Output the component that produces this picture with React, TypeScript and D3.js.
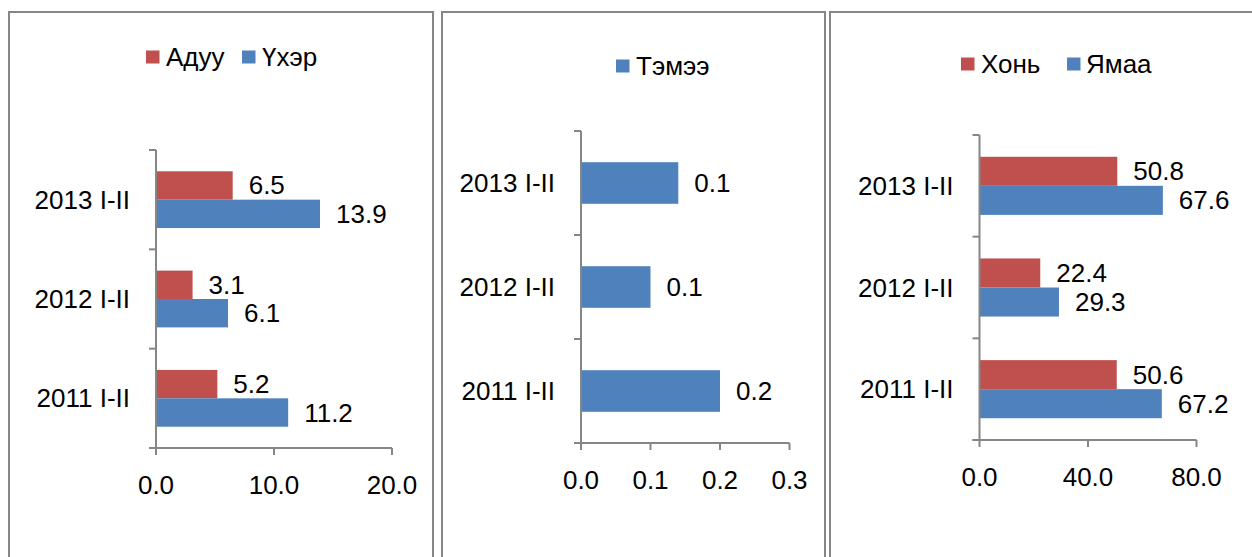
import React from 'react';
import { scaleBand, scaleLinear, format } from 'd3';

const categories = ['2013 I-II', '2012 I-II', '2011 I-II'];

// Адуу / Үхэр
const aduu = [6.5, 3.1, 5.2];
const ukher = [13.9, 6.1, 11.2];
// Тэмээ
const temee = [0.14, 0.1, 0.2];
// Хонь / Ямаа
const khoni = [50.8, 22.4, 50.6];
const yamaa = [67.6, 29.3, 67.2];

const ticks1 = [0, 10, 20];
const ticks2 = [0, 0.1, 0.2, 0.3];
const ticks3 = [0, 40, 80];

const RED = '#C0504D';
const BLUE = '#4F81BD';
const GREY = '#868686';
const FONT = 'Liberation Sans, Arial, sans-serif';
const FS = 26;
const fmt = format('.1f');

type Series = { name: string; color: string; values: number[] };
type Legend = { x: number; textX: number };

interface PanelProps {
  frame: [number, number];
  xRange: [number, number];
  yRange: [number, number];
  max: number;
  ticks: number[];
  series: Series[];
  legend: Legend[];
  legendY: number;
  tickLabelY: number;
}

function Panel({ frame, xRange, yRange, max, ticks, series, legend, legendY, tickLabelY }: PanelProps) {
  const x = scaleLinear().domain([0, max]).range(xRange);
  const y = scaleBand().domain(categories).range(yRange);
  const n = series.length;
  // excel gap width 150%
  const barH = y.bandwidth() / (n + 1.5);
  const x0 = xRange[0];

  return (
    <g>
      <rect x={frame[0]} y={12} width={frame[1] - frame[0]} height={600} fill="none" stroke={GREY} strokeWidth={2} />

      {/* legend */}
      {series.map((s, i) => (
        <g key={s.name}>
          <rect x={legend[i].x} y={legendY - 6.5} width={13.5} height={13} fill={s.color} />
          <text x={legend[i].textX} y={legendY} dominantBaseline="central" fontSize={FS} fontFamily={FONT}>
            {s.name}
          </text>
        </g>
      ))}

      {/* bars */}
      {categories.map((c, ci) => {
        const top = (y(c) as number) + (y.bandwidth() - n * barH) / 2;
        return (
          <g key={c}>
            {series.map((s, si) => {
              const v = s.values[ci];
              const by = top + si * barH;
              return (
                <g key={s.name}>
                  <rect x={x0} y={by} width={x(v) - x0} height={barH} fill={s.color} />
                  <text x={x(v) + 16} y={by + barH / 2} dominantBaseline="central" fontSize={FS} fontFamily={FONT}>
                    {fmt(v)}
                  </text>
                </g>
              );
            })}
            <text
              x={x0 - 26}
              y={(y(c) as number) + y.bandwidth() / 2}
              textAnchor="end"
              dominantBaseline="central"
              fontSize={FS}
              fontFamily={FONT}
            >
              {c}
            </text>
          </g>
        );
      })}

      {/* category axis */}
      <line x1={x0} x2={x0} y1={yRange[0]} y2={yRange[1]} stroke={GREY} strokeWidth={2} />
      {[...categories.map((c) => y(c) as number), yRange[1]].map((t, i) => (
        <line key={i} x1={x0 - 7} x2={x0} y1={t} y2={t} stroke={GREY} strokeWidth={2} />
      ))}

      {/* value axis */}
      <line x1={x0 - 7} x2={xRange[1]} y1={yRange[1]} y2={yRange[1]} stroke={GREY} strokeWidth={2} />
      {ticks.map((t) => (
        <g key={t}>
          <line x1={x(t)} x2={x(t)} y1={yRange[1]} y2={yRange[1] + 7} stroke={GREY} strokeWidth={2} />
          <text x={x(t)} y={tickLabelY} textAnchor="middle" dominantBaseline="central" fontSize={FS} fontFamily={FONT}>
            {fmt(t)}
          </text>
        </g>
      ))}
    </g>
  );
}

export default function App() {
  return (
    <svg width={1252} height={557} style={{ position: 'absolute', left: 0, top: 0, background: '#fff' }}>
      <rect width={1252} height={557} fill="#fff" />
      <Panel
        frame={[9, 433]}
        xRange={[156, 392]}
        yRange={[150, 448]}
        max={20}
        ticks={ticks1}
        series={[
          { name: 'Адуу', color: RED, values: aduu },
          { name: 'Үхэр', color: BLUE, values: ukher },
        ]}
        legend={[
          { x: 146, textX: 166 },
          { x: 242, textX: 262 },
        ]}
        legendY={57}
        tickLabelY={485}
      />
      <Panel
        frame={[442, 825]}
        xRange={[581, 789.5]}
        yRange={[131, 443]}
        max={0.3}
        ticks={ticks2}
        series={[{ name: 'Тэмээ', color: BLUE, values: temee }]}
        legend={[{ x: 616, textX: 636 }]}
        legendY={66}
        tickLabelY={480}
      />
      <Panel
        frame={[830, 1262]}
        xRange={[979.5, 1196.5]}
        yRange={[135, 440]}
        max={80}
        ticks={ticks3}
        series={[
          { name: 'Хонь', color: RED, values: khoni },
          { name: 'Ямаа', color: BLUE, values: yamaa },
        ]}
        legend={[
          { x: 961, textX: 981 },
          { x: 1067, textX: 1086 },
        ]}
        legendY={64}
        tickLabelY={477}
      />
    </svg>
  );
}
